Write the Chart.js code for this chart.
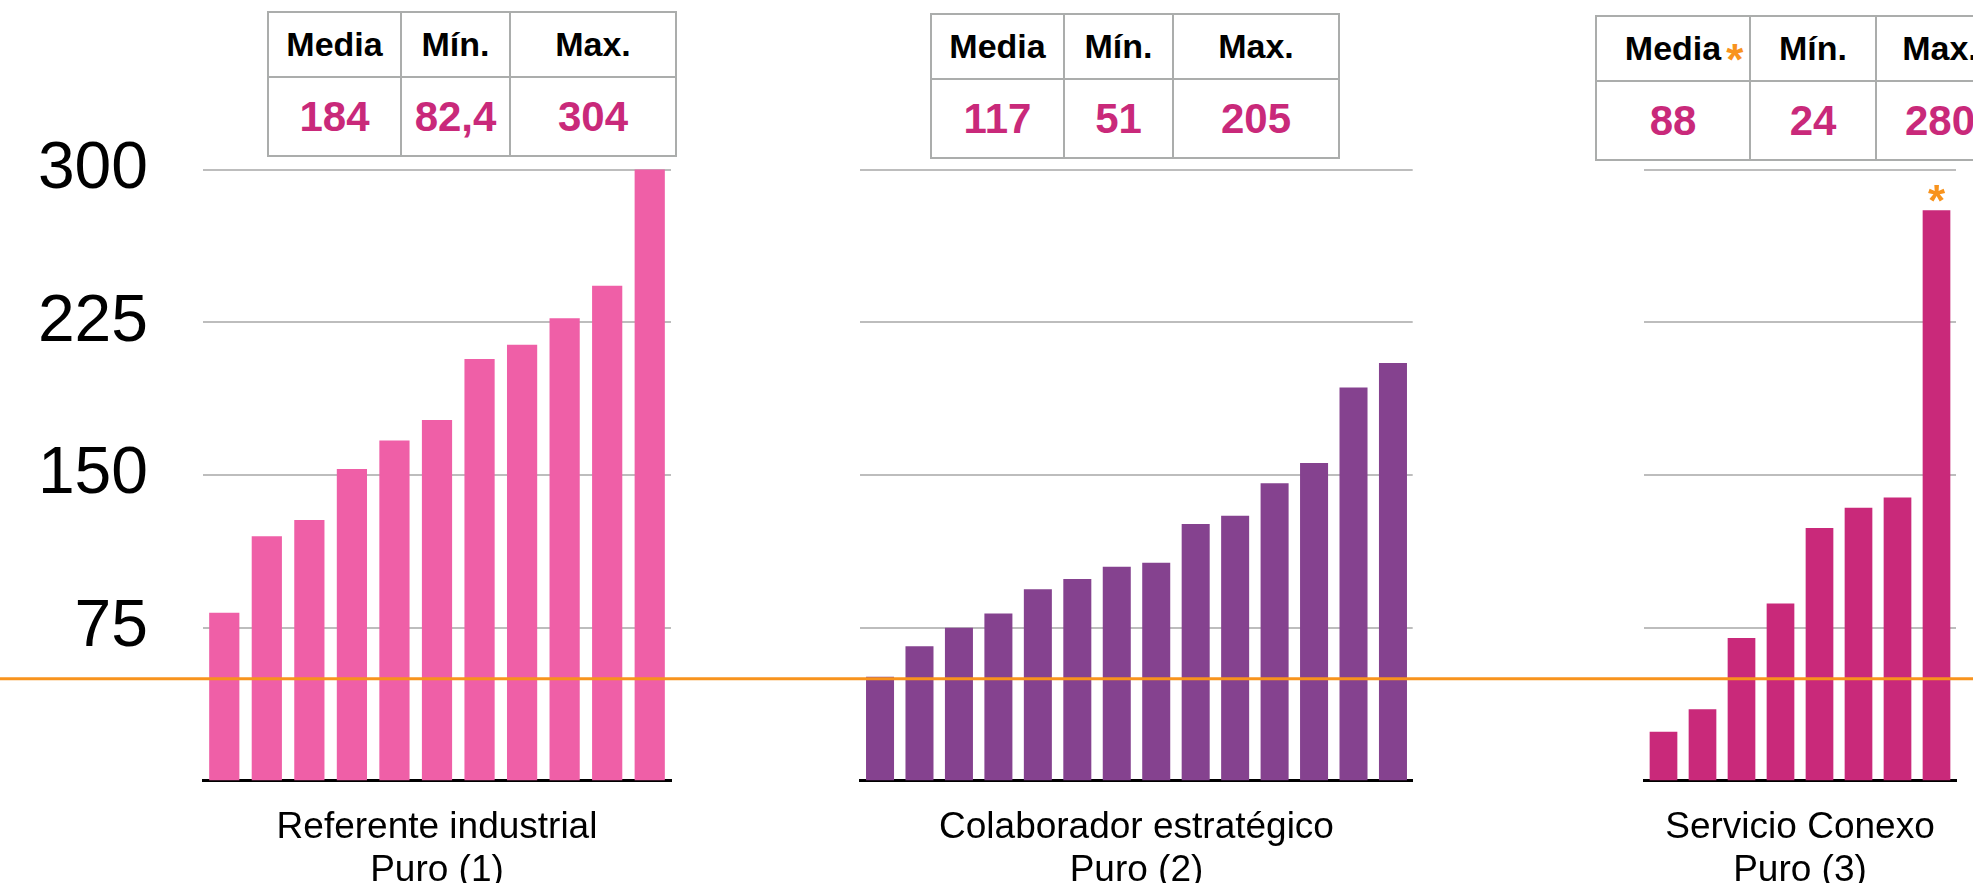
<!DOCTYPE html>
<html>
<head>
<meta charset="utf-8">
<script src="https://cdn.jsdelivr.net/npm/chart.js@4.4.1/dist/chart.umd.min.js"></script>
<style>
  body { margin: 0; background: #fff; }
  #wrap { position: relative; width: 1973px; height: 883px; overflow: hidden; background: #fff; }
  #wrap canvas { position: absolute; top: 0; }
  table.stats {
    position: absolute;
    border-collapse: collapse;
    table-layout: fixed;
    font-family: "Liberation Sans", Arial, Helvetica, sans-serif;
    font-weight: bold;
    background: #fff;
    z-index: 2;
  }
  table.stats td { border: 2px solid #ABADAC; text-align: center; padding: 0; }
  table.stats tr.head td { height: 63px; font-size: 34px; color: #000; }
  table.stats tr.vals td { height: 77px; font-size: 42px; color: #C9297A; }
  .lbl { position: relative; }
  .ast { position: absolute; left: calc(100% + 5px); top: 9px; font-size: 44px; line-height: 1; color: #F8931D; }
</style>
</head>
<body>
<div id="wrap">
  <canvas id="c1" width="765" height="892" style="left:0px"></canvas>
  <canvas id="c2" width="765" height="892" style="left:765px"></canvas>
  <canvas id="c3" width="443" height="892" style="left:1530px"></canvas>
</div>
<script>
Chart.defaults.font.family = '"Liberation Sans", Arial, Helvetica, sans-serif';
Chart.defaults.color = '#000';

// values, sorted low to high as in the picture
const referente = [82.4, 120, 128, 153, 167, 177, 207, 214, 227, 243, 304];
const colaborador = [51, 66, 75, 82, 94, 99, 105, 107, 126, 130, 146, 156, 193, 205];
const servicio = [24, 35, 70, 87, 124, 134, 139, 280];

const groupTitles = [
    ['Referente industrial', 'Puro (1)'],
    ['Colaborador estratégico', 'Puro (2)'],
    ['Servicio Conexo', 'Puro (3)']
];

const yTicks = [75, 150, 225, 300];
const refLine = 50;

// little tables over each group
const statHeads = ['Media', 'Mín.', 'Max.'];
const mediaVals = ['184', '117', '88'];
const minVals = ['82,4', '51', '24'];
const maxVals = ['304', '205', '280'];
const starredGroup = 2;
const starredBar = 7;

const refLinePlugin = {
    id: 'refLine',
    afterDatasetsDraw(chart) {
        const y = chart.scales.y.getPixelForValue(refLine);
        const ctx = chart.ctx;
        ctx.save();
        ctx.strokeStyle = '#F8931D';
        ctx.lineWidth = 3;
        ctx.beginPath();
        ctx.moveTo(0, y);
        ctx.lineTo(chart.width, y);
        ctx.stroke();
        ctx.restore();
    }
};

const starPlugin = {
    id: 'starMark',
    afterDatasetsDraw(chart, args, opts) {
        if (opts.index === undefined || opts.index === null) return;
        const bar = chart.getDatasetMeta(0).data[opts.index];
        const ctx = chart.ctx;
        ctx.save();
        ctx.fillStyle = '#F8931D';
        ctx.font = 'bold 44px "Liberation Sans", Arial, sans-serif';
        ctx.textAlign = 'center';
        ctx.textBaseline = 'alphabetic';
        ctx.fillText('*', bar.x, bar.y + 6);
        ctx.restore();
    }
};

function makeChart(id, values, color, title, yWidth, rightPad, showTicks, star) {
    const ctx = document.getElementById(id).getContext('2d');
    return new Chart(ctx, {
        type: 'bar',
        data: {
            labels: values.map((v, i) => String(i + 1)),
            datasets: [{
                data: values,
                backgroundColor: color,
                borderWidth: 0,
                barPercentage: 0.71,
                categoryPercentage: 1.0
            }]
        },
        options: {
            responsive: false,
            animation: false,
            devicePixelRatio: 1,
            layout: { padding: { top: 169.6, right: rightPad, left: 0, bottom: 0 } },
            plugins: {
                legend: { display: false },
                tooltip: { enabled: false },
                starMark: { index: star }
            },
            scales: {
                x: {
                    grid: { display: false, drawTicks: false },
                    border: { display: true, color: '#000', width: 3 },
                    ticks: { display: false },
                    title: {
                        display: true,
                        text: title,
                        color: '#000',
                        font: { size: 37, lineHeight: 1.16 },
                        padding: 0
                    },
                    afterFit: function(scale) { scale.height = 892 - 780.6; }
                },
                y: {
                    min: 0,
                    max: 300,
                    afterBuildTicks: function(scale) {
                        scale.ticks = yTicks.map(v => ({ value: v }));
                    },
                    grid: { color: '#BDBDBD', lineWidth: 2, drawTicks: false },
                    border: { display: false },
                    ticks: {
                        display: showTicks,
                        padding: yWidth - 148,
                        font: { size: 66 },
                        color: '#000'
                    },
                    afterFit: function(scale) { scale.width = yWidth; }
                }
            }
        },
        plugins: [refLinePlugin, starPlugin]
    });
}

makeChart('c1', referente, '#EF5FA7', groupTitles[0], 203, 94, true, null);
makeChart('c2', colaborador, '#85428F', groupTitles[1], 95.3, 117.3, false, null);
makeChart('c3', servicio, '#C9297A', groupTitles[2], 114, 17, false, starredBar);

// stats tables
const tablePos = [[267, 11], [930, 13], [1595, 15]];
const colWidths = [[133, 109, 166], [133, 109, 166], [154, 126, 128]];
const wrap = document.getElementById('wrap');

for (let g = 0; g < 3; g++) {
    const table = document.createElement('table');
    table.className = 'stats';
    table.style.left = tablePos[g][0] + 'px';
    table.style.top = tablePos[g][1] + 'px';
    const cw = colWidths[g];
    table.style.width = (cw[0] + cw[1] + cw[2]) + 'px';
    let cols = '<colgroup>' + cw.map(w => `<col style="width:${w}px">`).join('') + '</colgroup>';
    let head = statHeads.map((h, i) => {
        if (i === 0 && g === starredGroup) {
            return `<td><span class="lbl">${h}<span class="ast">*</span></span></td>`;
        }
        return `<td>${h}</td>`;
    }).join('');
    let vals = [mediaVals[g], minVals[g], maxVals[g]].map(v => `<td>${v}</td>`).join('');
    table.innerHTML = `${cols}<tr class="head">${head}</tr><tr class="vals">${vals}</tr>`;
    wrap.appendChild(table);
}
</script>
</body>
</html>
